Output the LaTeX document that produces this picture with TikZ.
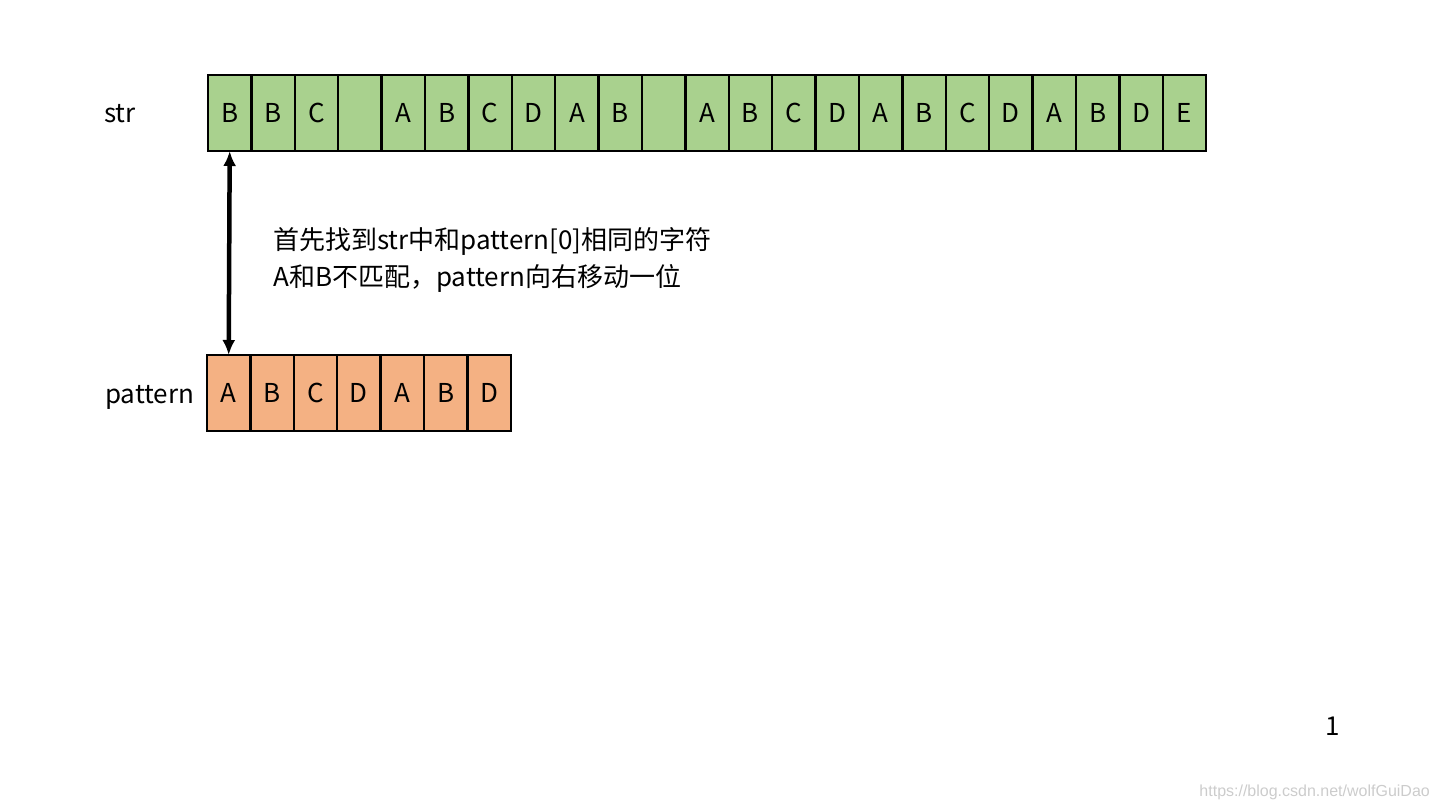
\documentclass[tikz,border=0pt]{standalone}
\usepackage{fontspec}
\setmainfont{Noto Sans CJK SC}
\newfontfamily\markfont{Liberation Sans}
\usetikzlibrary{arrows.meta,positioning}
\definecolor{strgreen}{HTML}{A9D18E}
\definecolor{patorange}{HTML}{F4B183}

\begin{document}
\begin{tikzpicture}[
    x=1pt, y=-1pt,
    font=\fontsize{26}{37}\selectfont,
    cell/.style={draw, line width=2.5pt, minimum width=43.4pt, minimum height=76pt, inner sep=0pt, outer sep=0pt},
    strcell/.style={cell, fill=strgreen},
    patcell/.style={cell, fill=patorange},
    arrow/.style={{Latex[length=15pt,width=13pt]}-{Latex[length=15pt,width=13pt]}, line width=4.5pt}
]
\useasboundingbox (0,0) rectangle (1440,810);
% str row
\node[strcell, anchor=north west] (s1) at (208,75) {B};
\foreach \ch [count=\i from 2, remember=\i as \j (initially 1)] in {B,C,{},A,B,C,D,A,B,{},A,B,C,D,A,B,C,D,A,B,D,E}
    \node[strcell, right=0pt of s\j] (s\i) {\ch};
% pattern row
\node[patcell, anchor=north west] (p1) at (207,355) {A};
\foreach \ch [count=\i from 2, remember=\i as \j (initially 1)] in {B,C,D,A,B,D}
    \node[patcell, right=0pt of p\j] (p\i) {\ch};
\node[anchor=base west, inner sep=0pt] (strlabel) at (104,123) {str};
\node[anchor=base west, inner sep=0pt] (patlabel) at (105,403) {pattern};
\draw[arrow] (s1.south) -- (p1.north);
\node[anchor=base west, inner sep=0pt] (note1) at (273,250) {首先找到str中和pattern[0]相同的字符};
\node[anchor=base west, inner sep=0pt] (note2) at (273,287) {A和B不匹配，pattern向右移动一位};
\node (pagenum) at (1333,726) {1};
\node[text=black!20, font=\fontsize{16}{16}\selectfont\markfont, anchor=east, inner sep=0pt] (mark) at (1430,792) {https://blog.csdn.net/wolfGuiDao};
\end{tikzpicture}
\end{document}
